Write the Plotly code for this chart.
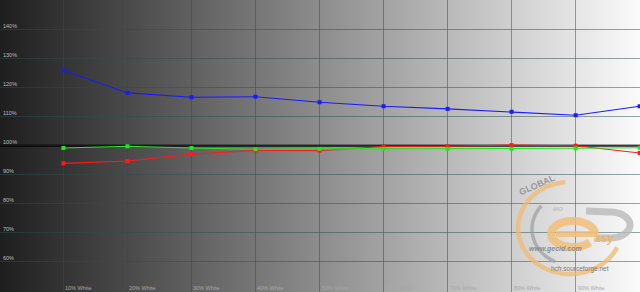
import base64
import math
import plotly.graph_objects as go

# ---- data ----
levels = [10, 20, 30, 40, 50, 60, 70, 80, 90, 100]
x_labels = ["10% White", "20% White", "30% White", "40% White", "50% White",
            "60% White", "70% White", "80% White", "90% White"]
blue = [126.0, 118.2, 116.7, 116.9, 115.0, 113.6, 112.7, 111.7, 110.5, 113.6]
green = [99.2, 99.8, 99.2, 98.8, 98.9, 98.9, 98.9, 98.9, 99.1, 99.3]
red = [93.9, 94.7, 97.1, 98.4, 98.3, 99.7, 99.8, 100.2, 100.0, 97.5]
y_ticks = [60, 70, 80, 90, 100, 110, 120, 130, 140]
y_labels = ["60%", "70%", "80%", "90%", "100%", "110%", "120%", "130%", "140%"]

W, H = 640, 292
FONT = "Liberation Sans, Arial, sans-serif"

fig = go.Figure()

# reference 100% line (under the data)
fig.add_trace(go.Scatter(x=[0, 100.05], y=[100, 100], mode="lines",
                         line=dict(color="rgba(0,0,0,0.65)", width=2.6),
                         hoverinfo="skip", showlegend=False))

for vals, col in [(blue, "#1a1aff"), (red, "#ff1a1a"), (green, "#22e622")]:
    fig.add_trace(go.Scatter(x=levels, y=vals, mode="lines+markers",
                             line=dict(color=col, width=1.1),
                             marker=dict(symbol="square", size=4, color=col),
                             showlegend=False))

# background gradient (SVG image)
svg = ('<svg xmlns="http://www.w3.org/2000/svg" width="640" height="292">'
       '<defs><linearGradient id="g" x1="0" y1="0" x2="1" y2="0">'
       '<stop offset="0" stop-color="#1e1e1e"/><stop offset="1" stop-color="#fbfbfb"/>'
       '</linearGradient></defs><rect width="640" height="292" fill="url(#g)"/></svg>')
src = "data:image/svg+xml;base64," + base64.b64encode(svg.encode()).decode()

images = [dict(source=src, xref="paper", yref="paper", x=0, y=1, sizex=1, sizey=1,
               sizing="stretch", xanchor="left", yanchor="top", layer="below")]

# ---- watermark (decoration) ----
def P(px, py):
    return px / W, 1 - py / H

def pts_path(pts):
    conv = [P(x, y) for x, y in pts]
    return "M " + " L ".join(f"{x:.5f},{y:.5f}" for x, y in conv)

def arc_pts(cx, cy, rx, ry, a0, a1, n=60):
    out = []
    for i in range(n + 1):
        a = math.radians(a0 + (a1 - a0) * i / n)
        out.append((cx + rx * math.cos(a), cy - ry * math.sin(a)))
    return out

ORANGE = "rgba(240,185,110,0.75)"
GRAY = "rgba(160,160,160,0.75)"

shapes = [
    dict(type="path", xref="paper", yref="paper",
         path=pts_path(arc_pts(570, 228, 52, 46, 95, 335)),
         line=dict(color=ORANGE, width=4.5), layer="above"),
    dict(type="path", xref="paper", yref="paper",
         path=pts_path(arc_pts(572, 229, 40, 36, 140, 245)),
         line=dict(color=GRAY, width=3.5), layer="above"),
    dict(type="path", xref="paper", yref="paper",
         path=pts_path([(586, 211)] + arc_pts(610, 225, 20, 13, 95, -95) + [(596, 238)]),
         line=dict(color="rgba(185,185,185,0.8)", width=7), layer="above"),
    dict(type="path", xref="paper", yref="paper",
         path=pts_path(arc_pts(573, 234, 22, 13, 0, 320)),
         line=dict(color="rgba(240,190,120,0.85)", width=8), layer="above"),
    dict(type="path", xref="paper", yref="paper",
         path=pts_path([(556, 234), (597, 234)]),
         line=dict(color="rgba(240,190,120,0.85)", width=6), layer="above"),
]

annotations = []
def ann(px, py, text, size, color, angle=0):
    x, y = P(px, py)
    annotations.append(dict(x=x, y=y, xref="paper", yref="paper", text=text,
                            showarrow=False, textangle=angle,
                            font=dict(family=FONT, size=size, color=color)))

ann(559, 200, "<b>GLOBAL</b>", 9, "rgba(140,140,140,0.85)", -24)
ann(565, 214, "<b><i>MO</i></b>", 6, "rgba(170,170,170,0.6)")
ann(617, 247, "<b><i>asy</i></b>", 12, "rgba(240,180,100,0.9)")
ann(584, 255, "<b><i>www.gecid.com</i></b>", 7, "rgba(130,130,130,0.9)")
ann(611, 275, "hcfr.sourceforge.net", 6.5, "#7a7a7a")

# x-axis category labels along the bottom edge
for lv, lab in zip(levels, x_labels):
    annotations.append(dict(x=lv, y=0, xref="x", yref="paper", text=lab,
                            showarrow=False, xanchor="left", yanchor="bottom",
                            xshift=0, yshift=-1,
                            font=dict(family=FONT, size=5.5, color="#a8a8a8")))

fig.update_layout(
    width=W, height=H,
    margin=dict(l=0, r=0, t=0, b=0),
    paper_bgcolor="#1e1e1e", plot_bgcolor="rgba(0,0,0,0)",
    images=images, shapes=shapes, annotations=annotations,
    showlegend=False,
    xaxis=dict(range=[0.1, 100.05], tickvals=levels, showticklabels=False, ticks="",
               showgrid=True, gridcolor="rgba(40,80,80,0.5)", gridwidth=1.2,
               zeroline=False, showline=False),
    yaxis=dict(range=[49.55, 150.24], tickvals=y_ticks, ticktext=y_labels,
               ticklabelposition="inside top", ticks="",
               showgrid=True, gridcolor="rgba(40,80,80,0.5)", gridwidth=1.2,
               zeroline=False, showline=False,
               tickfont=dict(family=FONT, size=5.5, color="#bdbdbd")),
)

fig.write_html("out.html")
